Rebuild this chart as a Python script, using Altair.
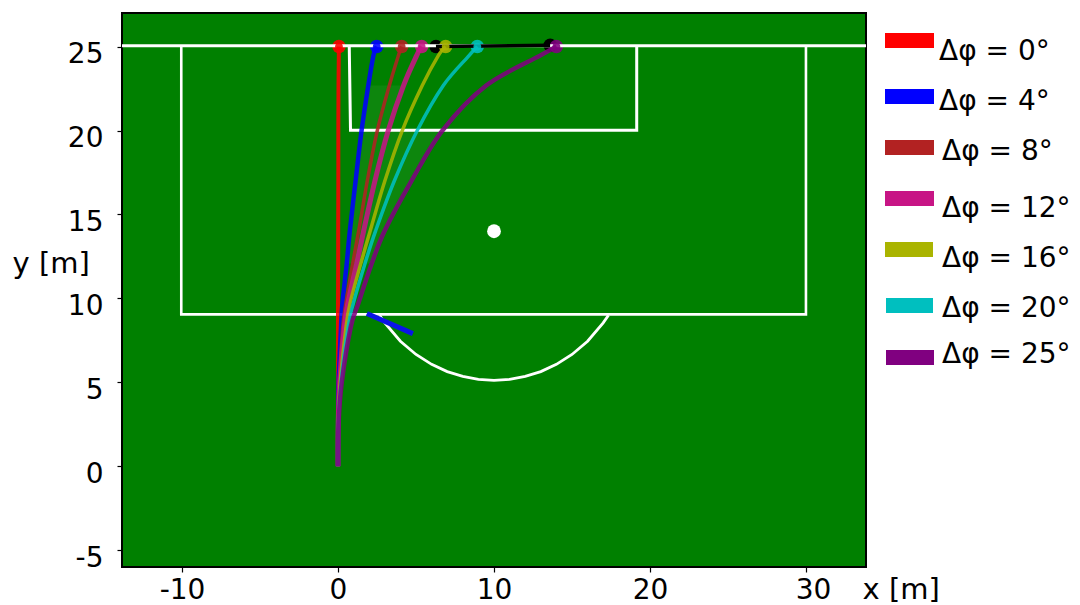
import altair as alt
import pandas as pd

# Trajectories: y levels and x for each shot
names = ["0", "4", "8", "12", "16", "20", "25"]
traj_colors = ["#ff0000", "#0000ff", "#b22222", "#c71585", "#aab400", "#00bfbf", "#800080"]
traj_widths = [4, 4.5, 3.5, 5, 3.5, 3.5, 4.5]
traj_y = [0, 2.5, 5, 8.27, 9.7, 12.08, 14.05, 17.02, 20, 22.68, 24.46, 25]
traj_x = {
    "0":  [0, 0, 0, 0, 0, 0.01, 0.01, 0.02, 0.02, 0.03, 0.05, 0.06],
    "4":  [0, 0.01, 0.04, 0.19, 0.28, 0.56, 0.76, 1.13, 1.51, 1.94, 2.27, 2.48],
    "8":  [0, 0.01, 0.08, 0.3, 0.5, 0.94, 1.33, 1.88, 2.52, 3.29, 3.87, 4.08],
    "12": [0, 0.01, 0.11, 0.4, 0.63, 1.2, 1.65, 2.37, 3.22, 4.2, 5.04, 5.36],
    "16": [0, 0.02, 0.14, 0.51, 0.77, 1.46, 2.07, 3.01, 4.12, 5.4, 6.43, 6.9],
    "20": [0, 0.02, 0.18, 0.64, 0.98, 1.73, 2.42, 3.62, 5.08, 6.75, 8.4, 8.93],
    "25": [0, 0.03, 0.24, 0.81, 1.3, 2.16, 3.0, 4.72, 6.69, 9.5, 12.95, 14.0],
}
legend_text = ["Δφ = 0°", "Δφ = 4°", "Δφ = 8°", "Δφ = 12°", "Δφ = 16°", "Δφ = 20°", "Δφ = 25°"]

# Pitch markings
goal_line_x = [-13.85, 33.85]
goal_line_y = [25.05, 25.05]
box18_x = [-10.05, -10.05, 30, 30]
box18_y = [25, 9.05, 9.05, 25]
box6_x = [0.72, 0.8, 19.15, 19.15]
box6_y = [25, 20.02, 20.02, 25]
arc_x = [2.66, 3, 4, 5, 6, 7, 8, 9, 10, 11, 12, 13, 14, 15, 16, 17, 17.34]
arc_y = [9.0, 8.54, 7.45, 6.66, 6.07, 5.64, 5.35, 5.18, 5.12, 5.18, 5.35, 5.64, 6.07, 6.66, 7.45, 8.54, 9.0]
spot_x, spot_y = [10], [14]
post_x, post_y = [6.28, 13.6], [25.0, 25.08]
player_x, player_y = [1.85, 4.8], [9.1, 7.9]
x_ticks = [-10, 0, 10, 20, 30]
y_ticks = [-5, 0, 5, 10, 15, 20, 25]

FS = 28
FONT = "DejaVu Sans"
xs = alt.Scale(domain=[-13.85, 33.85], nice=False, zero=False)
ys = alt.Scale(domain=[-6, 27], nice=False, zero=False)
X = alt.X("x:Q", scale=xs, axis=alt.Axis(
    values=x_ticks, grid=False, ticks=True, tickSize=5, tickWidth=1.2, tickColor="black", domain=False,
    labelFontSize=FS, labelFont=FONT, labelColor="black", labelPadding=4, labelFlush=False, labelOverlap=False,
    labelExpr="'' + datum.value",
    labelOffset={"condition": {"test": "datum.value == 30", "value": 7}, "value": 0},
    title="x [m]", titleFontSize=29, titleFont=FONT, titleFontWeight="normal", titleColor="black",
    titleAnchor="start", titleAlign="left", titleBaseline="middle", titleX=740, titleY=22))
Y = alt.Y("y:Q", scale=ys, axis=alt.Axis(
    values=y_ticks, grid=False, ticks=True, tickSize=5, tickWidth=1.2, tickColor="black", domain=False,
    labelFontSize=FS, labelFont=FONT, labelColor="black", labelPadding=14, labelOffset=8, labelOverlap=False,
    labelExpr="'' + datum.value",
    title="y [m]", titleFontSize=29, titleFont=FONT, titleFontWeight="normal", titleColor="black",
    titleAngle=0, titleAlign="left", titleBaseline="middle", titleX=-110, titleY=250))


def line(xv, yv, color, width, opacity=1.0):
    df = pd.DataFrame({"x": xv, "y": yv, "i": range(len(xv))})
    return alt.Chart(df).mark_line(color=color, strokeWidth=width, opacity=opacity, strokeCap="butt",
                                   clip=True).encode(x=X, y=Y, order="i:Q")


def dots(xv, yv, color, size=182, opacity=1.0):
    df = pd.DataFrame({"x": xv, "y": yv})
    return alt.Chart(df).mark_point(shape="circle", filled=True, fill=color, stroke=None, size=size,
                                    opacity=opacity).encode(x=X, y=Y)


layers = []
# faint wash between the outer curves
lo, hi = 5, 9
wash = pd.DataFrame({"x": traj_x["4"][lo:hi], "x2": traj_x["25"][lo:hi], "y": traj_y[lo:hi]})
layers.append(alt.Chart(wash).mark_area(orient="horizontal", color="white", opacity=0.05,
                                        interpolate="cardinal").encode(x=X, x2="x2:Q", y=Y))
lo, hi = 8, 10
wash2 = pd.DataFrame({"x": traj_x["4"][lo:hi], "x2": traj_x["12"][lo:hi], "y": traj_y[lo:hi]})
layers.append(alt.Chart(wash2).mark_area(orient="horizontal", color="white", opacity=0.05).encode(x=X, x2="x2:Q", y=Y))

# end-of-flight dots lie beneath the white markings
layers.append(dots(post_x, post_y, "black"))
for n, c in zip(names, traj_colors):
    layers.append(dots([traj_x[n][-1]], [25.0], c, opacity=0.88))
# markings
WL = "white"
layers.append(line(box18_x, box18_y, WL, 2.6))
layers.append(line(box6_x, box6_y, WL, 3))
layers.append(line(arc_x, arc_y, WL, 2.8))
layers.append(line(goal_line_x, goal_line_y, WL, 3))
layers.append(dots(spot_x, spot_y, WL, size=190))
layers.append(line(post_x, post_y, "black", 3.5))
# dot cores above the goal line
for n, c in zip(names, traj_colors):
    layers.append(dots([traj_x[n][-1]], [25.0], c, size=60, opacity=0.88))
# trajectories
for n, c, w in zip(names, traj_colors, traj_widths):
    df = pd.DataFrame({"x": traj_x[n], "y": traj_y, "i": range(len(traj_y))})
    layers.append(alt.Chart(df).mark_line(color=c, strokeWidth=w, opacity=0.88, interpolate="cardinal",
                                          strokeCap="butt").encode(x=X, y=Y, order="i:Q"))
layers.append(line(player_x, player_y, "#0a14e6", 5))

# legend rows, positioned in the margin to the right of the plot
sw_l = [763, 763, 763, 763, 763, 764, 764]
sw_r = [812, 812, 812, 812, 811, 811, 812]
sw_t = [20, 76, 127, 178, 229, 285, 337]
tx_l = [817, 817, 820, 820, 820, 820, 820]
tx_y = [39, 89, 139, 196, 246, 296, 342]
base = pd.DataFrame({"k": [0]})
for i, (t, c) in enumerate(zip(legend_text, traj_colors)):
    layers.append(alt.Chart(base).mark_rect(color=c).encode(
        x=alt.value(sw_l[i]), x2=alt.value(sw_r[i]), y=alt.value(sw_t[i]), y2=alt.value(sw_t[i] + 15)))
    layers.append(alt.Chart(base).mark_text(text=t, font=FONT, fontSize=FS, align="left", baseline="middle",
                                            color="black").encode(x=alt.value(tx_l[i]), y=alt.value(tx_y[i])))

chart = alt.layer(*layers).properties(
    width=744, height=554,
    padding={"left": 114, "top": 5, "right": 206, "bottom": 38},
    autosize=alt.AutoSizeParams(type="none"),
    background="white",
).configure_view(fill="#008000", stroke="black", strokeWidth=2)
chart.save("out.html", embed_options={"renderer": "svg", "actions": False})
